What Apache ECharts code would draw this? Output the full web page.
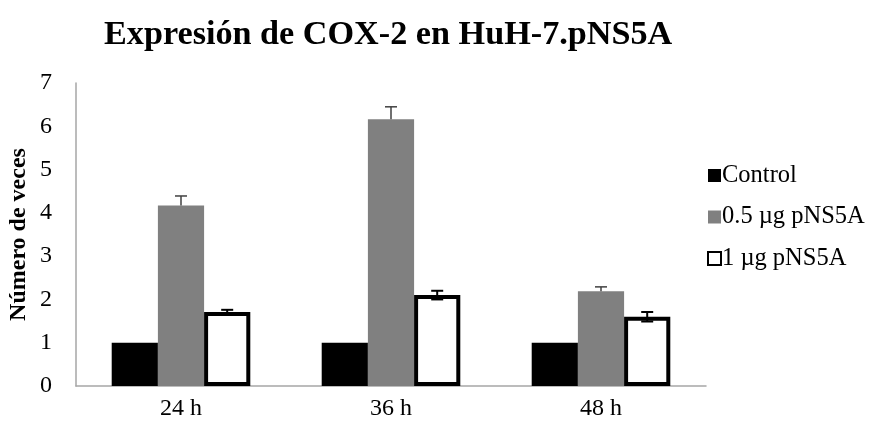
<!DOCTYPE html>
<html>
<head>
<meta charset="utf-8">
<script src="https://cdn.jsdelivr.net/npm/echarts@6/dist/echarts.min.js"></script>
<style>
  html, body { margin: 0; padding: 0; background: #fff; }
  #chart { width: 872px; height: 425px; }
</style>
</head>
<body>
<div id="chart"></div>
<script>
// Fold change of COX-2 expression over time
const categories = ['24 h', '36 h', '48 h'];
const seriesNames = ['Control', '0.5 µg pNS5A', '1 µg pNS5A'];
const controlValues = [1, 1, 1];
const halfUgValues = [4.17, 6.16, 2.19];
const oneUgValues = [1.71, 2.10, 1.60];
const halfUgErrors = [0.22, 0.29, 0.10];
const oneUgErrors = [0.05, 0.10, 0.11];
const yTicks = [0, 1, 2, 3, 4, 5, 6, 7];

const SERIF = '"Liberation Serif", "Times New Roman", serif';
const CAT_GAP = 0.34; // fraction of band left empty between groups

// Error bar renderer: slot picks the bar position within a group (0,1,2)
function errorBarRenderer(slot, both, color, width) {
  return function (params, api) {
    const idx = api.value(0);
    const val = api.value(1);
    const err = api.value(2);
    const band = api.size([1, 0])[0];
    const barW = band * (1 - CAT_GAP) / 3;
    const center = api.coord([idx, val]);
    const x = center[0] + (slot - 1) * barW;
    const top = api.coord([idx, val + err])[1];
    const bottom = both ? api.coord([idx, val - err])[1] : center[1];
    const cap = 6;
    const style = { stroke: color, lineWidth: width };
    const children = [
      { type: 'line', shape: { x1: x, y1: top, x2: x, y2: bottom }, style: style },
      { type: 'line', shape: { x1: x - cap, y1: top, x2: x + cap, y2: top }, style: style }
    ];
    if (both) {
      children.push({ type: 'line', shape: { x1: x - cap, y1: bottom, x2: x + cap, y2: bottom }, style: style });
    }
    return { type: 'group', children: children };
  };
}

const chart = echarts.init(document.getElementById('chart'));
chart.setOption({
  backgroundColor: '#fff',
  animation: false,
  title: {
    text: 'Expresión de COX-2 en HuH-7.pNS5A',
    left: 99,
    top: 13,
    textStyle: { fontFamily: SERIF, fontWeight: 'bold', fontSize: 34.2, color: '#000' }
  },
  legend: {
    orient: 'vertical',
    left: 702,
    top: 158,
    itemGap: 16.5,
    itemWidth: 13,
    itemHeight: 13,
    data: seriesNames.map(n => ({ name: n, icon: 'rect' })),
    textStyle: { fontFamily: SERIF, fontSize: 24.5, color: '#000', padding: [0, 0, 0, -4] }
  },
  grid: { left: 76, right: 166, top: 83, bottom: 39, outerBoundsMode: 'none' },
  xAxis: {
    type: 'category',
    data: categories,
    axisLine: { lineStyle: { color: '#a6a6a6', width: 1.5 } },
    axisTick: { show: false },
    axisLabel: { fontFamily: SERIF, fontSize: 24, color: '#000', margin: 11 }
  },
  yAxis: {
    type: 'value',
    min: yTicks[0],
    max: yTicks[yTicks.length - 1],
    interval: 1,
    name: 'Número de veces',
    nameLocation: 'middle',
    nameRotate: 90,
    nameGap: 45,
    nameMoveOverlap: false,
    nameTextStyle: { fontFamily: SERIF, fontWeight: 'bold', fontSize: 24, color: '#000' },
    axisLine: { show: true, lineStyle: { color: '#a6a6a6', width: 1.5 } },
    axisTick: { show: false },
    splitLine: { show: false },
    axisLabel: { fontFamily: SERIF, fontSize: 24, color: '#000', margin: 24 }
  },
  series: [
    {
      name: seriesNames[0], type: 'bar', data: controlValues,
      barGap: 0, barCategoryGap: (CAT_GAP * 100) + '%',
      itemStyle: { color: '#000' }
    },
    {
      name: seriesNames[1], type: 'bar', data: halfUgValues,
      barGap: 0, barCategoryGap: (CAT_GAP * 100) + '%',
      itemStyle: { color: '#808080' }
    },
    {
      name: seriesNames[2], type: 'bar', data: oneUgValues,
      barGap: 0, barCategoryGap: (CAT_GAP * 100) + '%',
      itemStyle: { color: '#fff', borderColor: '#000', borderWidth: 4 }
    },
    {
      type: 'custom', z: 5,
      renderItem: errorBarRenderer(1, false, '#404040', 1.5),
      data: halfUgValues.map((v, i) => [i, v, halfUgErrors[i]]),
      encode: { x: 0, y: 1 }
    },
    {
      type: 'custom', z: 5,
      renderItem: errorBarRenderer(2, true, '#000', 2),
      data: oneUgValues.map((v, i) => [i, v, oneUgErrors[i]]),
      encode: { x: 0, y: 1 }
    }
  ]
});
</script>
</body>
</html>
